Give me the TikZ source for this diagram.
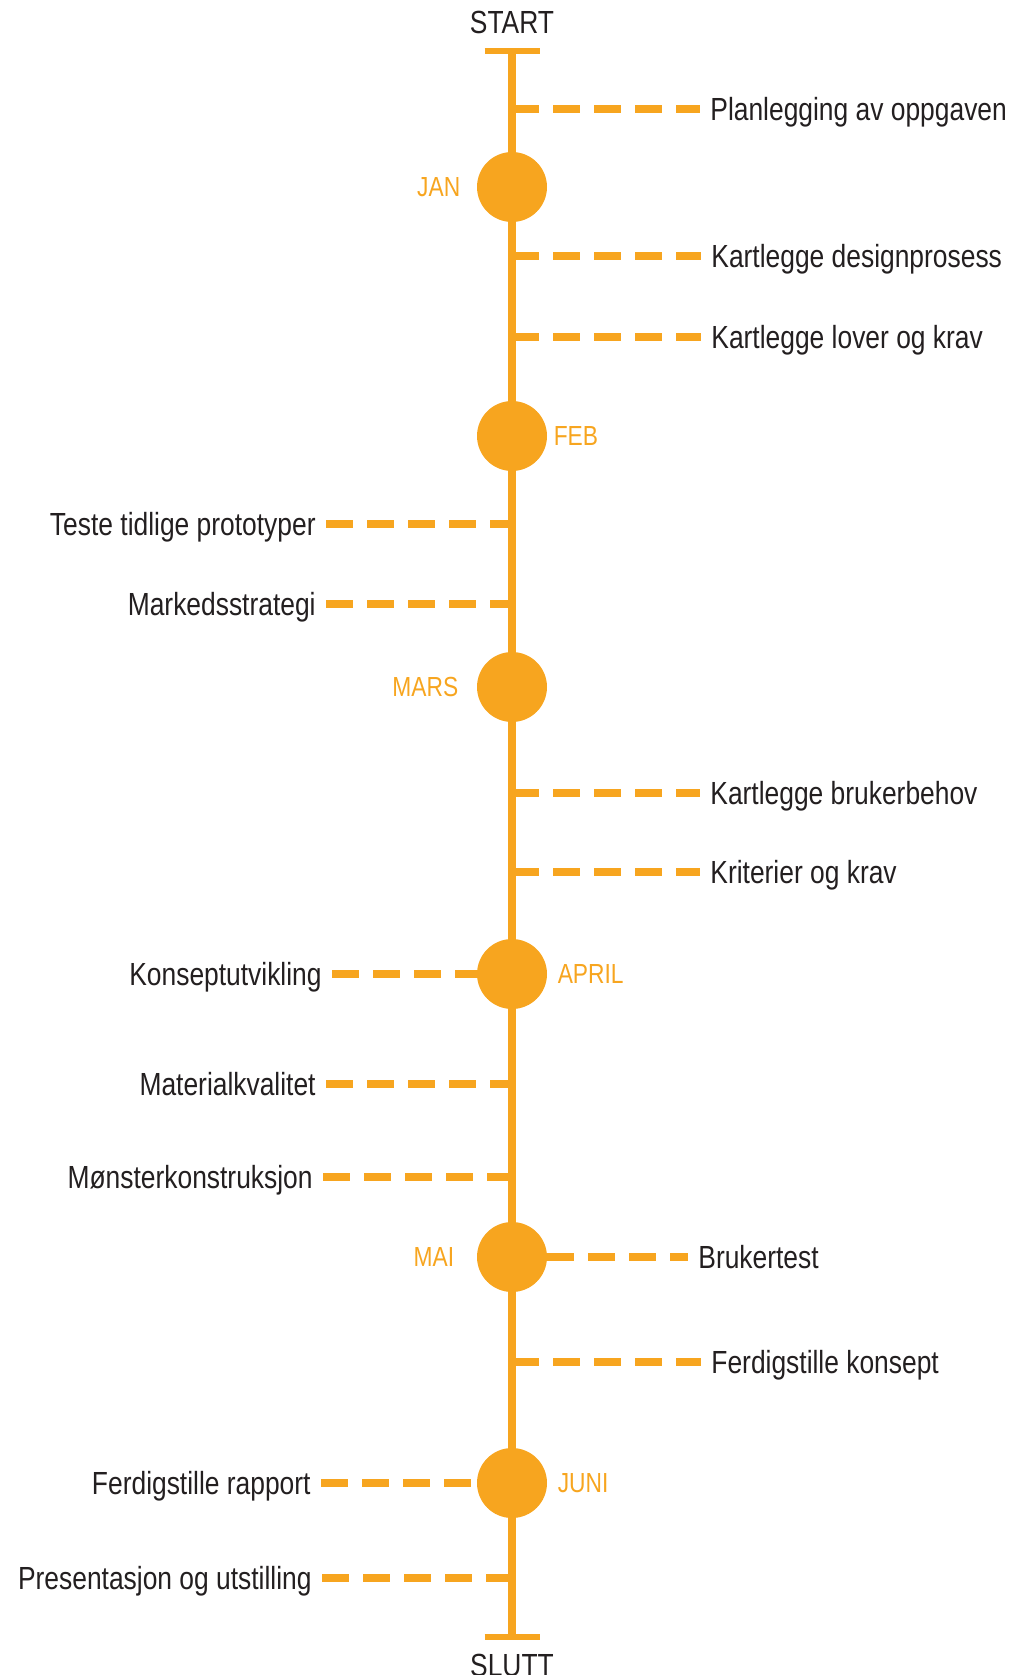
\documentclass[tikz,border=0pt]{standalone}
\usepackage{fontspec}
\setmainfont{Liberation Sans}[FakeStretch=0.825]
\usepackage{tikz}
\usetikzlibrary{positioning}

\definecolor{tlorange}{HTML}{F7A51F}
\definecolor{tltext}{HTML}{231F20}

\begin{document}
\begin{tikzpicture}[
    x=0.5pt, y=-0.5pt,
    axis/.style={draw=tlorange, line width=4pt},
    endcap/.style={draw=tlorange, line width=3pt},
    dot/.style={
        circle,
        fill=tlorange,
        minimum size=35pt,
        inner sep=0pt
    },
    month/.style={
        text=tlorange,
        inner sep=0pt,
        text height=9.7pt,
        text depth=0pt,
        font=\fontsize{13.8}{16}\selectfont
    },
    task/.style={
        text=tltext,
        inner xsep=5pt,
        inner ysep=0pt,
        text height=11.5pt,
        text depth=0pt,
        font=\fontsize{16}{19}\selectfont
    },
    ends/.style={task, inner sep=0pt},
    link/.style={draw=tlorange, line width=4pt, dash pattern=on 13.5pt off 7pt}
]
\useasboundingbox (0,0) rectangle (1015,1675);

% Main axis
\coordinate (top) at (512,51);
\coordinate (bot) at (512,1637);
\draw[axis] (top) -- (bot);
\draw[endcap] ([xshift=-13.75pt]top) -- ([xshift=13.75pt]top);
\draw[endcap] ([xshift=-13.75pt]bot) -- ([xshift=13.75pt]bot);
\node[ends, above=8.5pt of top] (start) {START};
\node[ends, below=8pt of bot] (slutt) {SLUTT};

% Months
\node[dot] (jan) at (512,187) {};
\node[dot] (feb) at (512,436) {};
\node[dot] (mars) at (512,687) {};
\node[dot] (april) at (512,974) {};
\node[dot] (mai) at (512,1257) {};
\node[dot] (juni) at (512,1483) {};

\node[month, left=8pt of jan] {JAN};
\node[month, right=3pt of feb] {FEB};
\node[month, left=9pt of mars] {MARS};
\node[month, right=5pt of april] {APRIL};
\node[month, left=11pt of mai] {MAI};
\node[month, right=5pt of juni] {JUNI};

% Points on the axis
\coordinate (a1) at (512,109);
\coordinate (a2) at (512,256);
\coordinate (a3) at (512,337);
\coordinate (a4) at (512,524);
\coordinate (a5) at (512,604);
\coordinate (a6) at (512,793);
\coordinate (a7) at (512,872);
\coordinate (a8) at (512,1084);
\coordinate (a9) at (512,1177);
\coordinate (a10) at (512,1362);
\coordinate (a11) at (512,1578);

% Tasks, right side
\node[task, anchor=west] (plan) at (700,109) {Planlegging av oppgaven};
\node[task, anchor=west] (design) at (701,256) {Kartlegge designprosess};
\node[task, anchor=west] (lover) at (701,337) {Kartlegge lover og krav};
\node[task, anchor=west] (behov) at (700,793) {Kartlegge brukerbehov};
\node[task, anchor=west] (krit) at (700,872) {Kriterier og krav};
\node[task, anchor=west] (test) at (688,1257) {Brukertest};
\node[task, anchor=west] (konsept) at (701,1362) {Ferdigstille konsept};

% Tasks, left side
\node[task, anchor=east] (proto) at (326,524) {Teste tidlige prototyper};
\node[task, anchor=east] (marked) at (326,604) {Markedsstrategi};
\node[task, anchor=east] (utvikl) at (332,974) {Konseptutvikling};
\node[task, anchor=east] (materi) at (326,1084) {Materialkvalitet};
\node[task, anchor=east] (monster) at (323,1177) {Mønsterkonstruksjon};
\node[task, anchor=east] (rapport) at (321,1483) {Ferdigstille rapport};
\node[task, anchor=east] (present) at (322,1578) {Presentasjon og utstilling};

% Dashed links
\draw[link] (a1) -- (plan.west);
\draw[link] (a2) -- (design.west);
\draw[link] (a3) -- (lover.west);
\draw[link] (a6) -- (behov.west);
\draw[link] (a7) -- (krit.west);
\draw[link] (mai.east) -- (test.west);
\draw[link] (a10) -- (konsept.west);

\draw[link] (proto.east) -- (a4);
\draw[link] (marked.east) -- (a5);
\draw[link] (utvikl.east) -- (april.west);
\draw[link] (materi.east) -- (a8);
\draw[link] (monster.east) -- (a9);
\draw[link] (rapport.east) -- (juni.west);
\draw[link] (present.east) -- (a11);

\end{tikzpicture}
\end{document}
